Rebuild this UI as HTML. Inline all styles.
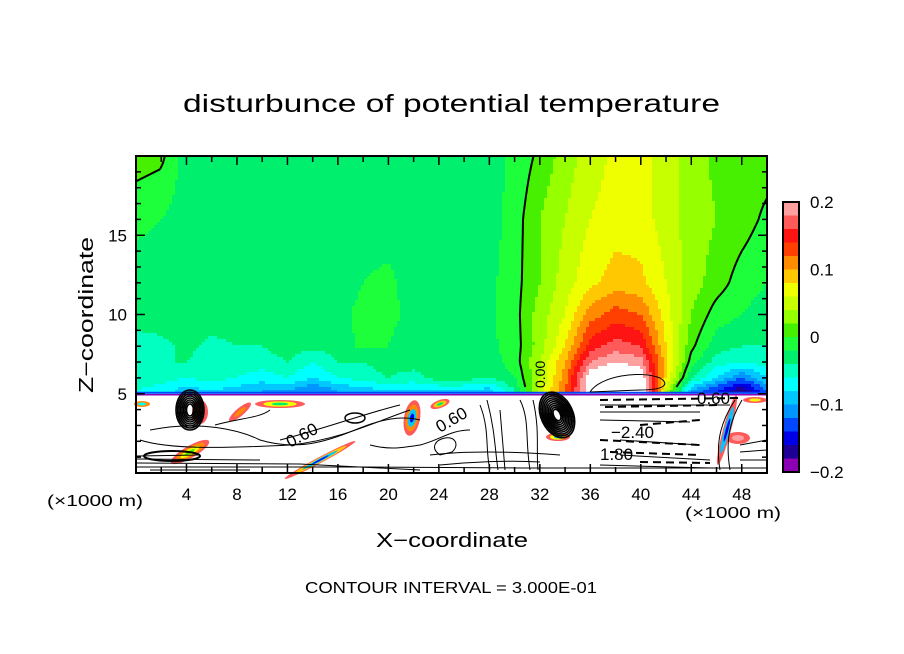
<!DOCTYPE html>
<html><head><meta charset="utf-8">
<style>
html,body{margin:0;padding:0;background:#fff;}
svg{display:block;font-family:"Liberation Sans",sans-serif;}
</style></head>
<body>
<svg id="chart" width="904" height="654" viewBox="0 0 904 654" xmlns="http://www.w3.org/2000/svg">
<rect x="0" y="0" width="904" height="654" fill="#fff"/>
<text x="183" y="112" font-size="25" textLength="537" lengthAdjust="spacingAndGlyphs">disturbunce of potential temperature</text>
<g id="field"></g>
<g id="lower"></g>
<g id="contours"></g>
<g id="axes"></g>
<g id="cbar"></g>
<text transform="translate(93,393) rotate(-90)" font-size="20" textLength="156" lengthAdjust="spacingAndGlyphs">Z−coordinate</text>
<text x="376" y="547" font-size="20" textLength="152" lengthAdjust="spacingAndGlyphs">X−coordinate</text>
<text x="47" y="506" font-size="16" textLength="96" lengthAdjust="spacingAndGlyphs">(×1000 m)</text>
<text x="685" y="518" font-size="16" textLength="96" lengthAdjust="spacingAndGlyphs">(×1000 m)</text>
<text x="305" y="593" font-size="16" textLength="292" lengthAdjust="spacingAndGlyphs">CONTOUR INTERVAL = 3.000E-01</text>
</svg>
<script>
// ---- data (units of 0.01 K) ----
const xCols = [0,2,4,6,8,10,12,14,16,18,20,22,24,26,28,30,32,34,36,38,40,42,44,46,48,50];
const zLevels = [5.2,6,7,8,10,12,16,20];
const row52 = [-6,-7,-9,-8,-9,-10,-10,-12,-10,-9,-8,-8,-8,-8,-9,-4,5,12,22,25,25,5,-10,-14,-18,-12];
const row6  = [-5,-5,-6,-5,-6,-7,-6,-8,-6,-5,-4,-5,-3,-3,-4,-2,4,11,22,24,22,8,-4,-8,-12,-8];
const row7  = [-5,-4,-4,-5,-5,-5,-4,-6,-4,-4,-3,-3,-2.5,-2,-3,-1,4,10,18,20,19,9,-1,-5,-6,-5];
const row8  = [-5,-4.5,-3.5,-4.5,-4,-4,-3,-3.5,-3,-1.5,-2,-3,-3,-3,-2.5,-1,3,8,15,17,16,8,0.5,-3,-4,-4];
const row10 = [-3,-3,-3,-3,-3,-3,-3,-3,-2.5,-1.5,-1.5,-2.5,-3,-3,-2.5,-0.8,3,6,11,13,12,7,2,-1,-2,-3];
const row12 = [-3,-3,-3,-3,-3,-3,-3,-3,-3,-2,-1.5,-3,-3,-3,-2.5,-0.8,2,5,7.5,9,8.5,6,3,1,-1,-2];
const row16 = [-1.5,-2,-3,-3,-3,-3,-3,-3,-3,-3,-3,-3,-3,-3,-3,-1,2,4,6,7,7,5,3,2,1,-0.5];
const row20 = [1,0.5,-3,-3,-3,-3,-3,-3,-3,-3,-3,-3,-3,-3,-3,-1.5,0.5,3,5,6.5,7,5,3,1.5,1,1];
const rows = [row52,row6,row7,row8,row10,row12,row16,row20];
const cbTicks = ["0.2","0.1","0","−0.1","−0.2"];
const cbTickVals = [0.2,0.1,0,-0.1,-0.2];
const xTickLabels = [4,8,12,16,20,24,28,32,36,40,44,48];
const yTickLabels = [5,10,15];
const bandColors = ["#ffa0a0","#ff5a5a","#ff1414","#ff4000","#ff8c00","#ffc800","#f0ff00","#c8ff00","#96ff00","#46f000","#1eff3c","#00f06e","#00ffc0","#00ffff","#00c8ff","#0096ff","#0046ff","#0000e6","#1e0096","#8c00b4"];

const NS="http://www.w3.org/2000/svg";
const PX0=136, PX1=767, PY0=156, PY1=473;
const xs = x => PX0 + x/50*(PX1-PX0);
const zs = z => PY1 - z/20*(PY1-PY0);
function mk(tag, attrs, parent){const e=document.createElementNS(NS,tag);for(const k in attrs)e.setAttribute(k,attrs[k]);parent.appendChild(e);return e;}

function val(x,z){
  let fi = Math.max(0,Math.min(xCols.length-1.0001, x/2));
  const i=Math.floor(fi), t=fi-i;
  let zz=Math.max(zLevels[0],Math.min(zLevels[zLevels.length-1],z));
  let j=0; while(j<zLevels.length-2 && zz>zLevels[j+1]) j++;
  const u=(zz-zLevels[j])/(zLevels[j+1]-zLevels[j]);
  const a=rows[j][i]*(1-t)+rows[j][i+1]*t;
  const b=rows[j+1][i]*(1-t)+rows[j+1][i+1]*t;
  return a*(1-u)+b*u;
}
function colorOf(v){
  if(v>=20||v<-20) return "#ffffff";
  const k=Math.floor((20-v)/2);
  return bandColors[Math.max(0,Math.min(19,k))];
}

// ---- field ----
const field=document.getElementById('field');
const STEP=3;
const yTopPix=PY0, yBotPix=zs(5.0);
function flush(x0,x1,py,col){
  const r=mk('rect',{x:x0,y:py,width:x1-x0,height:Math.min(STEP,yBotPix-py)+0.5,fill:col},field);
  
  
}
for(let py=yTopPix; py<yBotPix; py+=STEP){
  const z=(PY1-(py+STEP/2))/(PY1-PY0)*20;
  let runStart=PX0, runCol=null;
  for(let px=PX0; px<PX1; px+=STEP){
    const x=(px+STEP/2-PX0)/(PX1-PX0)*50;
    const c = colorOf(val(x,z));
    if(c!==runCol){
      if(runCol!==null) flush(runStart,px,py,runCol);
      runStart=px; runCol=c;
    }
  }
  if(runCol!==null) flush(runStart,PX1,py,runCol);
}

// ---- zero contour (marching squares) ----
(function(){
  const g=document.getElementById('contours');
  const nx=Math.ceil((PX1-PX0)/STEP), zmin=5.5;
  const ny=Math.ceil((zs(zmin)-PY0)/STEP);
  const P=(i,j)=>[Math.min(PX1,PX0+i*STEP), PY0+j*STEP];
  const V=(i,j)=>{const p=P(i,j);return val((p[0]-PX0)/(PX1-PX0)*50,(PY1-p[1])/(PY1-PY0)*20);};
  const grid=[];
  for(let j=0;j<=ny;j++){grid.push([]);for(let i=0;i<=nx;i++)grid[j].push(V(i,j));}
  let d="";
  const lerp=(p,q,a,b)=>{const t=a/(a-b);return [p[0]+(q[0]-p[0])*t,p[1]+(q[1]-p[1])*t];};
  for(let j=0;j<ny;j++)for(let i=0;i<nx;i++){
    const c=[[P(i,j),grid[j][i]],[P(i+1,j),grid[j][i+1]],[P(i+1,j+1),grid[j+1][i+1]],[P(i,j+1),grid[j+1][i]]];
    const pts=[];
    for(let k=0;k<4;k++){const A=c[k],B=c[(k+1)%4];if((A[1]>=0)!==(B[1]>=0))pts.push(lerp(A[0],B[0],A[1],B[1]));}
    for(let k=0;k+1<pts.length;k+=2)d+=`M${pts[k][0].toFixed(1)},${pts[k][1].toFixed(1)}L${pts[k+1][0].toFixed(1)},${pts[k+1][1].toFixed(1)}`;
  }
  const p=mk('path',{d:d,stroke:"#000","stroke-width":2,fill:"none"},g);
  
  
})();

// ---- lower boundary layer (decoration) ----
(function(){
  const g=document.getElementById('lower');
  const yb=zs(5.0);
  mk('rect',{x:PX0,y:yb,width:PX1-PX0,height:PY1-yb,fill:"#fff"},g);
  mk('line',{x1:PX0,y1:yb-1,x2:PX1,y2:yb-1,stroke:"#0046ff","stroke-width":2},g);
  mk('line',{x1:PX0,y1:yb+1,x2:PX1,y2:yb+1,stroke:"#8c00b4","stroke-width":1.5},g);
  function blob(cx,cy,rx,ry,rot,cols){cols.forEach((c,k)=>{const f=1-k/cols.length;mk('ellipse',{cx:cx,cy:cy,rx:rx*f,ry:ry*f,fill:c,transform:`rotate(${rot} ${cx} ${cy})`},g);});}
  blob(190,452,22,6,-30,["#ff5a5a","#ff8c00","#f0ff00","#46f000"]);
  blob(320,460,40,3,-28,["#ff5a5a","#ffc800","#00c8ff","#0000e6"]);
  blob(200,412,8,12,0,["#ff5a5a","#ff8c00"]);
  blob(240,412,14,4,-40,["#ff5a5a","#ff8c00"]);
  blob(280,404,25,4,0,["#ff5a5a","#f0ff00","#00f06e"]);
  blob(412,418,8,18,10,["#ff5a5a","#ff8c00","#00c8ff","#0000e6"]);
  blob(440,404,10,4,-20,["#ff5a5a","#ffc800","#00f06e"]);
  blob(558,437,12,4,0,["#ff5a5a","#f0ff00","#00c8ff"]);
  blob(738,438,12,6,0,["#ff5a5a","#ffa0a0"]);
  blob(727,430,4,36,15,["#ff5a5a","#00c8ff","#0000e6"]);
  blob(755,400,12,3,0,["#ff5a5a","#f0ff00"]);
  blob(142,404,8,3,0,["#ff8c00","#00ffff"]);
  const lines=[
   "M137,467 L360,467 L520,468 L767,468","M137,463 L300,464 L420,470","M137,459 L260,460","M137,456 L200,455",
   "M150,430 C200,420 240,430 260,440 C300,452 330,440 360,428 C380,420 400,415 420,420",
   "M140,440 C170,450 230,448 290,445 C340,440 380,420 410,410",
   "M280,440 C320,430 370,412 400,405","M215,425 C240,418 260,418 270,410",
   "M150,470 L250,470","M440,465 C470,462 510,460 540,462","M430,455 C470,450 520,452 560,455",
   "M600,405 L730,405","M600,412 L700,412","M600,420 L690,422","M620,440 L700,445","M620,455 L710,460","M600,465 L710,468",
   "M720,470 C715,440 722,420 735,400","M730,470 C725,440 730,420 742,400","M740,460 L767,460","M740,452 L767,450","M740,445 L767,440",
   "M480,405 C490,430 485,450 490,470","M487,400 C495,430 495,450 498,470","M500,410 L505,470",
   "M520,400 C530,420 525,440 530,470","M533,400 C540,430 536,450 538,470",
   "M370,445 C390,450 400,448 420,445 C440,440 450,430 470,430",
   "M440,455 C430,448 435,440 445,438 C455,436 460,445 452,452Z",
   "M590,392 C600,376 640,370 660,378 C670,384 665,390 640,390 L590,392"
  ];
  lines.forEach(d=>{const p=mk('path',{d:d,stroke:"#000","stroke-width":1,fill:"none"},g);});
  mk('ellipse',{cx:172,cy:456,rx:28,ry:5,stroke:"#000","stroke-width":2,fill:"none"},g);
  mk('ellipse',{cx:355,cy:418,rx:10,ry:5,stroke:"#000","stroke-width":1.5,fill:"none"},g);
  for(let k=0;k<8;k++){mk('ellipse',{cx:190,cy:410,rx:14-k*1.5,ry:20-k*2,stroke:"#000","stroke-width":1.6,fill:"none"},g);}
  for(let k=0;k<10;k++){mk('ellipse',{cx:557,cy:415,rx:16-k*1.4,ry:24-k*2,stroke:"#000","stroke-width":1.6,fill:"none",transform:"rotate(-25 557 415)"},g);}
  const dashes=["M600,400 L740,398","M605,407 L720,405","M640,425 L700,420","M600,440 L700,445","M610,452 L700,455","M640,462 L710,463"];
  dashes.forEach(d=>mk('path',{d:d,stroke:"#000","stroke-width":2,fill:"none","stroke-dasharray":"8 5"},g));
  const labs=[["0.60",290,448,-28],["0.60",440,433,-30],["−2.40",611,438,0],["1.80",600,460,0],["0.60",697,404,0]];
  labs.forEach(l=>{const t=mk('text',{x:l[1],y:l[2],"font-size":17,transform:`rotate(${l[3]} ${l[1]} ${l[2]})`},g);t.textContent=l[0];});
  const z0=mk('text',{x:545,y:388,"font-size":14,transform:"rotate(-90 545 388)"},g);z0.textContent="0.00";
  
  
})();

// ---- axes ----
(function(){
  const g=document.getElementById('axes');
  mk('rect',{x:PX0,y:PY0,width:PX1-PX0,height:PY1-PY0,fill:"none",stroke:"#000","stroke-width":2},g);
  for(let x=2;x<50;x+=2){const L=(x%4===0)?9:6;
    mk('line',{x1:xs(x),y1:PY1,x2:xs(x),y2:PY1-L,stroke:"#000","stroke-width":1.5},g);
    mk('line',{x1:xs(x),y1:PY0,x2:xs(x),y2:PY0+L,stroke:"#000","stroke-width":1.5},g);}
  for(let z=1;z<20;z++){const L=(z%5===0)?9:5;
    mk('line',{x1:PX0,y1:zs(z),x2:PX0+L,y2:zs(z),stroke:"#000","stroke-width":1.5},g);
    mk('line',{x1:PX1,y1:zs(z),x2:PX1-L,y2:zs(z),stroke:"#000","stroke-width":1.5},g);}
  xTickLabels.forEach(v=>{const t=mk('text',{x:xs(v),y:500,"font-size":17,"text-anchor":"middle"},g);t.textContent=v;
    
    });
  yTickLabels.forEach(v=>{const t=mk('text',{x:127,y:zs(v)+6,"font-size":17,"text-anchor":"end"},g);t.textContent=v;
    
    });
})();

// ---- colorbar ----
(function(){
  const g=document.getElementById('cbar');
  const cx=783,cw=16,cy0=202,cy1=472,bh=(cy1-cy0)/20;
  const cyOf=v=>cy0+(0.2-v)/0.4*(cy1-cy0);
  bandColors.forEach((c,k)=>{const r=mk('rect',{x:cx,y:cy0+k*bh,width:cw,height:bh+0.3,fill:c},g);
    
    });
  mk('rect',{x:cx,y:cy0,width:cw,height:cy1-cy0,fill:"none",stroke:"#000","stroke-width":2},g);
  cbTicks.forEach((s,k)=>{const t=mk('text',{x:810,y:cyOf(cbTickVals[k])+6,"font-size":17},g);t.textContent=s;
    
    });
})();
</script>
</body></html>
